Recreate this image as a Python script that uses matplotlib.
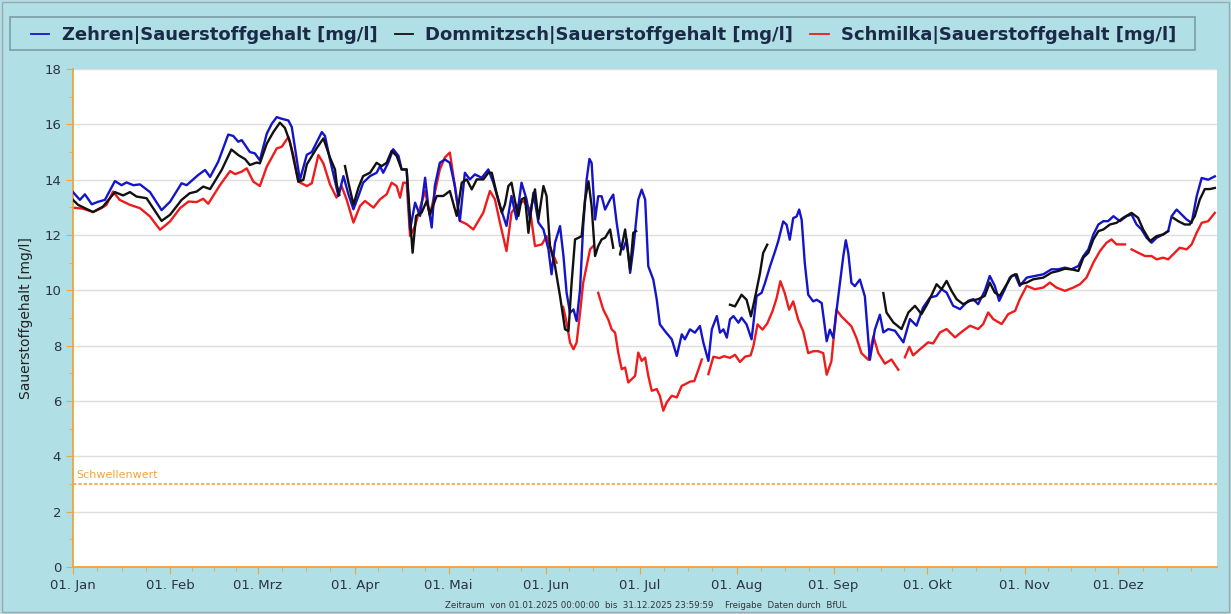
import numpy as np
import matplotlib.pyplot as plt
from matplotlib.lines import Line2D
from matplotlib.patches import Rectangle

# --- Daten (Tag im Jahr ab 01.01.2025, Sauerstoffgehalt in mg/l), None = Lücke ---
zehren_tag = [0, 2.2, 3.8, 6, 8, 10.2, 13.4, 15.5, 17.1, 19.3, 21.4, 24.6, 28.3, 31, 34.7, 36.3, 40, 42.2, 43.8,
              46.4, 49.6, 51.2, 52.8, 53.9, 55, 56.5, 58.1, 59.7, 61.9, 63.5, 65.1, 66.7, 68.8, 69.9, 72.5, 74.7,
              76.3, 79.5, 80.5, 82.1, 83.2, 84.8, 86.4, 88, 89.6, 91.2, 92.7, 94.9, 97, 98.1, 99.1, 100.7, 102.3,
              104, 105, 106.6, 107.7, 109.3, 110.9, 112.5, 113.5, 114.6, 115.6, 117.2, 118.8, 120.4, 122, 123.6,
              125.2, 126.8, 128.4, 130.6, 132.7, 134.3, 136.4, 138.5, 140.1, 141.7, 143.3, 144.9, 146, 147.1,
              148.7, 150.3, 151.9, 152.9, 154, 155.6, 156.7, 157.7, 158.8, 159.9, 160.9, 162, 163, 164.1, 165,
              165.7, 166.8, 167.8, 168.9, 170, 171.6, 172.6, 173.7, 174.8, 175.8, 176.9, 178, 179, 180.6, 181.7,
              182.8, 183.8, 185.4, 186.5, 187.5, 189.1, 191.3, 192.9, 194.5, 195.5, 197.1, 198.7, 200.3, 201.4,
              203, 204.1, 205.7, 206.7, 207.8, 208.9, 209.9, 211, 212.6, 213.6, 215.2, 216.8, 218.4, 220, 221.1,
              222.7, 224.3, 225.3, 226.9, 228, 229, 230.1, 231.2, 232, 232.8, 233.8, 234.9, 236.5, 237.6, 239.2,
              240.8, 241.8, 242.9, 244.5, 246.1, 246.9, 247.7, 248.7, 249.8, 251.4, 253, 254.6, 256.2, 257.8,
              258.9, 260.5, 262.6, 265.3, 267.4, 269.5, 271.6, 273.8, 275.9, 277.5, 279.1, 281.2, 283.4, 286,
              287.6, 289.2, 291.3, 292.9, 294.5, 295.9, 297.7, 299.3, 300.9, 302.5, 304.7, 307.3, 310, 312.6,
              314.8, 316.9, 319, 321.2, 322.8, 324.4, 326, 327.6, 329.2, 330.7, 332.4, 334.5, 336.6, 338.2,
              339.8, 341.4, 343, 344.6, 346.2, 348.3, 349.9, 351, 352.6, 354.2, 355.8, 357.4, 359, 360.6, 362.7,
              364.8]
zehren_wert = [13.55, 13.27, 13.47, 13.11, 13.2, 13.27, 13.95, 13.8, 13.9, 13.8, 13.83, 13.55, 12.9, 13.2, 13.87,
               13.8, 14.17, 14.35, 14.1, 14.65, 15.63, 15.58, 15.37, 15.43, 15.25, 15.0, 14.95, 14.7, 15.66, 16.02,
               16.26, 16.2, 16.14, 15.9, 13.99, 14.9, 15.0, 15.72, 15.58, 14.73, 14.19, 13.41, 14.13, 13.47, 12.93,
               13.41, 13.89, 14.13, 14.25, 14.49, 14.25, 14.61, 15.1, 14.86, 14.37, 14.37, 12.2, 13.17, 12.69,
               14.07, 13.05, 12.27, 13.77, 14.61, 14.73, 14.61, 13.77, 12.51, 14.25, 14.01, 14.19, 14.07, 14.37,
               13.89, 13.05, 12.33, 13.41, 12.57, 13.89, 13.29, 12.57, 13.53, 12.45, 12.2, 11.48, 10.58, 11.72,
               12.32, 11.24, 9.91, 9.19, 9.31, 8.89, 10.03, 12.32, 14.0, 14.75, 14.6, 12.56, 13.4, 13.4, 12.92,
               13.28, 13.46, 12.44, 11.6, 11.48, 11.84, 10.63, 11.48, 13.28, 13.64, 13.28, 10.87, 10.39, 9.67, 8.77,
               8.53, 8.23, 7.63, 8.41, 8.23, 8.59, 8.47, 8.71, 8.11, 7.45, 8.59, 9.07, 8.47, 8.59, 8.29, 8.95, 9.07,
               8.83, 9.01, 8.77, 8.23, 9.79, 9.91, 10.27, 10.87, 11.41, 11.77, 12.49, 12.37, 11.83, 12.61, 12.67,
               12.92, 12.55, 10.99, 9.84, 9.6, 9.66, 9.54, 8.16, 8.58, 8.28, 9.78, 11.23, 11.81, 11.35, 10.27,
               10.15, 10.39, 9.78, 7.49, 8.58, 9.12, 8.48, 8.6, 8.54, 8.12, 8.96, 8.72, 9.38, 9.74, 9.8, 10.04,
               9.92, 9.44, 9.32, 9.62, 9.68, 9.5, 9.98, 10.52, 10.16, 9.62, 10.04, 10.46, 10.58, 10.16, 10.46,
               10.52, 10.58, 10.76, 10.76, 10.82, 10.76, 10.88, 11.24, 11.48, 12.02, 12.38, 12.5, 12.5, 12.68,
               12.5, 12.68, 12.74, 12.38, 12.2, 11.9, 11.72, 11.9, 12.02, 12.14, 12.68, 12.92, 12.74, 12.56, 12.44,
               13.4, 14.06, 14.0, 14.12]

dommitzsch_tag = [0, 1.6, 3.8, 6.4, 9.6, 13.4, 16, 18.2, 20.3, 23.5, 28.3, 31, 34.7, 37.3, 39.5, 41.6, 43.8, 47.5,
                  50.6, 52.8, 55, 56.5, 58.7, 59.7, 61.9, 64, 66.1, 67.7, 69.3, 72, 73.6, 74.7, 77.8, 80, 82.1,
                  83.7, 84.3, 85.1, 85.9, 86.9, 88, 89.6, 91.2, 92.7, 94.9, 97, 98.6, 100.2, 101.8, 103.4, 105,
                  106.6, 107.7, 108.5, 109.6, 111.4, 113, 114, 116.2, 118.3, 120.4, 122.6, 124.2, 125.8, 127.4, 129,
                  131.1, 132.7, 133.8, 135.3, 137, 138, 139.1, 140.1, 141.2, 142.3, 143.3, 144.4, 145.5, 146.5,
                  147.6, 148.7, 150.3, 151.3, 152.4, 154, 155.6, 157.2, 158.3, 159.3, 160.4, 161.5, 162.5, 163.6,
                  164.7, 165.7, 166.8, 167.8, 168.9, 170, 171.6, 172.6, 173.7, 174.8, 176.4, 178, 179, 179.9, 195,
                  209.9, 211.5, 213.6, 215.2, 216.6, 218.2, 219.5, 220.5, 221.8, 240, 258.9, 259.9, 262.1, 264.7,
                  266.9, 269, 271.1, 273.2, 275.9, 277.5, 279.1, 280.7, 282.3, 284.4, 286.6, 289.2, 291.3, 292.9,
                  294.5, 296.1, 298.3, 299.9, 301.5, 302.5, 304.7, 306.8, 310, 312.6, 314.8, 316.9, 319, 321.2,
                  322.8, 324.4, 326, 327.6, 329.2, 331.3, 333.4, 335.5, 338.2, 340.3, 341.9, 344.1, 346.2, 348.3,
                  349.9, 350.7, 351.5, 353.1, 355.2, 356.8, 358.4, 360, 361.6, 363.2, 364.8]
dommitzsch_wert = [13.27, 13.09, 12.97, 12.83, 13.03, 13.55, 13.43, 13.55, 13.39, 13.33, 12.51, 12.73, 13.27, 13.51,
                   13.57, 13.75, 13.66, 14.35, 15.09, 14.89, 14.74, 14.53, 14.62, 14.59, 15.3, 15.72, 16.06, 15.87,
                   15.37, 13.93, 13.99, 14.55, 15.13, 15.49, 14.8, 14.37, 13.81, 13.45, None, 14.49, 13.89, 13.1,
                   13.71, 14.13, 14.25, 14.61, 14.49, 14.61, 15.04, 14.86, 14.37, 14.37, 12.57, 11.36, 12.69, 12.81,
                   13.23, 12.75, 13.41, 13.41, 13.59, 12.69, 13.89, 14.01, 13.65, 14.01, 14.01, 14.25, 14.25, 13.53,
                   12.81, 13.1, 13.77, 13.89, 13.23, 12.69, 13.29, 13.35, 12.08, 13.05, 13.65, 12.57, 13.77, 13.41,
                   11.6, 10.88, 9.79, 8.59, 8.53, 10.27, 11.84, 11.9, 11.96, 13.28, 13.94, 13.04, 11.24, 11.6, 11.84,
                   11.9, 12.2, 11.54, None, 11.3, 12.2, 10.75, 12.08, 12.14, None, 9.48, 9.42, 9.84, 9.66, 9.06, 9.9,
                   10.63, 11.35, 11.65, None, 9.9, 9.2, 8.84, 8.6, 9.2, 9.44, 9.14, 9.56, 10.22, 10.04, 10.34, 9.98,
                   9.68, 9.5, 9.62, 9.68, 9.8, 10.28, 9.92, 9.8, 10.22, 10.52, 10.58, 10.22, 10.28, 10.4, 10.46,
                   10.64, 10.7, 10.78, 10.76, 10.7, 11.18, 11.36, 11.84, 12.14, 12.2, 12.38, 12.44, 12.62, 12.8,
                   12.62, 12.2, 11.78, 11.96, 12.02, 12.14, None, 12.62, 12.5, 12.38, 12.38, 12.68, 13.28, 13.66,
                   13.66, 13.7]

schmilka_tag = [0, 3.2, 6.4, 9.1, 10.7, 12.8, 14.9, 18.2, 21.4, 24.6, 27.8, 31, 34.2, 36.9, 39.5, 41.6, 43.2, 47,
                50.2, 51.8, 53.9, 55.5, 57.6, 59.7, 61.9, 65.1, 66.7, 68.8, 70.4, 72, 74.7, 76.3, 78.4, 80, 82.1,
                84.2, 85.8, 87.4, 89.6, 91.7, 93.3, 96, 98.1, 100.2, 101.8, 103.4, 104.5, 105.5, 106.6, 107.7,
                109.3, 110.9, 112.5, 114, 115.6, 117.2, 118.8, 120.4, 122, 123.6, 125.8, 127.9, 131.1, 133.2, 134.8,
                136.4, 138.5, 140.1, 141.7, 143.9, 146, 147.6, 149.8, 151.3, 152.9, 154.5, 155.5, 156.6, 157.7,
                158.8, 159.9, 160.9, 162, 163, 164.1, 165.2, 166.2, 167, 167.8, 169.4, 171, 172.1, 173.2, 174.2,
                175.3, 176.4, 177.4, 178.5, 179.6, 180.6, 181.7, 182.8, 183.8, 184.9, 186.5, 187.5, 188.6, 189.7,
                191.3, 192.9, 194.5, 195.5, 197.1, 198.5, 199.8, 200.9, 202, 203, 204.6, 206.5, 208, 209.9, 211.5,
                213.1, 214.7, 216.5, 217.4, 218.7, 220.3, 221.8, 223.5, 224.8, 226, 227.4, 228.8, 230.1, 231.7,
                233.3, 234.9, 236.5, 238.1, 239.7, 240.8, 242.3, 243.9, 245.5, 247.1, 248.7, 250.3, 251.9, 254.1,
                255.7, 257.3, 259.4, 261.5, 262.6, 263.7, 264.7, 265.8, 267.2, 268.4, 270.6, 273.2, 274.8, 277,
                279.1, 281.8, 284.4, 286.6, 289.2, 290.8, 292.4, 294, 296.7, 298.8, 301, 302.5, 304.7, 307.3, 310,
                312.1, 314.2, 316.9, 319.6, 321.7, 323.8, 326, 328.1, 330.2, 331.8, 333.4, 336.1, 337.2, 338.2,
                340.3, 342.5, 344.6, 346.2, 348.3, 349.9, 351.5, 353.6, 355.8, 357.4, 359, 360.6, 362.7, 364.8]
schmilka_wert = [12.99, 12.95, 12.83, 12.97, 13.09, 13.57, 13.27, 13.09, 12.97, 12.67, 12.19, 12.49, 12.97, 13.21,
                 13.19, 13.31, 13.13, 13.81, 14.31, 14.2, 14.29, 14.41, 13.93, 13.77, 14.47, 15.13, 15.19, 15.54,
                 14.89, 13.93, 13.77, 13.87, 14.89, 14.59, 13.83, 13.35, 13.77, 13.29, 12.45, 13.05, 13.23, 12.99,
                 13.29, 13.47, 13.89, 13.77, 13.35, 13.89, 13.89, 11.96, 12.33, 12.99, 13.59, 12.69, 13.53, 14.37,
                 14.8, 14.98, 13.77, 12.51, 12.39, 12.2, 12.81, 13.59, 13.29, 12.45, 11.42, 12.81, 13.05, 13.23,
                 12.93, 11.6, 11.66, 11.96, 11.42, 11.0, None, 9.4, 8.83, 8.11, 7.87, 8.11, 9.19, 10.27, 10.87,
                 11.48, 11.6, None, 9.91, 9.31, 8.95, 8.59, 8.47, 7.75, 7.15, 7.21, 6.67, 6.79, 6.91, 7.75, 7.45,
                 7.57, 6.91, 6.37, 6.43, 6.19, 5.65, 5.95, 6.19, 6.13, 6.55, 6.6, 6.7, 6.72, 7.13, 7.5, None, 6.97,
                 7.6, 7.55, 7.62, 7.56, 7.67, 7.41, 7.6, 7.65, 7.99, 8.77, 8.58, 8.8, 9.25, 9.72, 10.33, 9.9, 9.3,
                 9.6, 8.94, 8.52, 7.73, 7.8, 7.8, 7.73, 6.95, 7.43, 9.3, 9.06, 8.88, 8.7, 8.28, 7.73, 7.49, 8.34,
                 7.73, 7.35, 7.5, 7.31, 7.13, None, 7.58, 7.96, 7.65, 7.87, 8.12, 8.08, 8.48, 8.6, 8.3, 8.54, 8.72,
                 8.6, 8.78, 9.2, 8.96, 8.78, 9.14, 9.26, 9.68, 10.16, 10.04, 10.1, 10.28, 10.1, 9.98, 10.1, 10.22,
                 10.46, 11.0, 11.42, 11.72, 11.84, 11.66, 11.66, None, 11.48, 11.36, 11.24, 11.24, 11.12, 11.18,
                 11.12, 11.3, 11.54, 11.48, 11.66, 12.08, 12.44, 12.5, 12.8]

monate = ["01. Jan", "01. Feb", "01. Mrz", "01. Apr", "01. Mai", "01. Jun",
          "01. Jul", "01. Aug", "01. Sep", "01. Okt", "01. Nov", "01. Dez"]
monat_tage = [31, 28, 31, 30, 31, 30, 31, 31, 30, 31, 30, 31]
schwellenwert = 3

# --- Farben ---
hintergrund = '#b0dfe5'
orange = '#f2a33a'
textfarbe = '#2b3340'

def serie(tage, werte):
    w = np.array([np.nan if v is None else v for v in werte], dtype=float)
    return np.array(tage, dtype=float), w

fig = plt.figure(figsize=(12.31, 6.14), dpi=100, facecolor=hintergrund)
ax = fig.add_axes([73 / 1231, 1 - 567 / 614, (1217 - 73) / 1231, (567 - 69) / 614])
ax.set_facecolor('white')

t, w = serie(zehren_tag, zehren_wert)
ax.plot(t, w, color='#1414c8', lw=1.7, zorder=3)
t, w = serie(dommitzsch_tag, dommitzsch_wert)
ax.plot(t, w, color='#111111', lw=1.7, zorder=4)
t, w = serie(schmilka_tag, schmilka_wert)
ax.plot(t, w, color='#ee1c1c', lw=1.7, zorder=2)

# Schwellenwert
ax.axhline(schwellenwert, color=orange, lw=1.2, ls=(0, (2, 1.2)), zorder=2)
ax.text(1, schwellenwert + 0.15, "Schwellenwert", color=orange, fontsize=8, va='bottom', ha='left')

# Achsen
monat_start = np.concatenate([[0], np.cumsum(monat_tage)[:-1]])
minor = []
for s, n in zip(monat_start, monat_tage):
    minor += [s + n * k / 4 for k in (1, 2, 3)]
ax.set_xticks(monat_start)
ax.set_xticklabels(monate)
ax.set_xticks(minor, minor=True)
ax.set_xlim(0, 365.5)
ax.set_ylim(0, 18)
ax.set_yticks(range(0, 19, 2))
ax.set_yticks(range(1, 19, 2), minor=True)
ax.grid(axis='y', which='major', color='#dedede', lw=1)
ax.set_axisbelow(True)

for s in ['top', 'right']:
    ax.spines[s].set_visible(False)
for s in ['left', 'bottom']:
    ax.spines[s].set_color(orange)
    ax.spines[s].set_linewidth(1.3)
ax.tick_params(which='both', direction='out', color=orange, labelcolor=textfarbe, labelsize=9.5)
ax.tick_params(which='major', length=5)
ax.tick_params(which='minor', length=3)
ax.set_ylabel("Sauerstoffgehalt [mg/l]", fontsize=10, color='#222222', labelpad=8)

# Legende mit Rahmen
fig.patches.append(Rectangle((10 / 1231, 1 - 50 / 614), 1185 / 1231, 33 / 614, transform=fig.transFigure,
                             facecolor=hintergrund, edgecolor='#7c9ea6', lw=1.2, zorder=0))
fig.patches.append(Rectangle((2 / 1231, 2 / 614), 1227 / 1231, 610 / 614, transform=fig.transFigure,
                             facecolor='none', edgecolor='#a0a8ac', lw=1, zorder=0))
handles = [Line2D([], [], color='#1414c8', lw=1.3),
           Line2D([], [], color='#111111', lw=1.3),
           Line2D([], [], color='#ee1c1c', lw=1.3)]
labels = ["Zehren|Sauerstoffgehalt [mg/l]", "Dommitzsch|Sauerstoffgehalt [mg/l]", "Schmilka|Sauerstoffgehalt [mg/l]"]
leg = fig.legend(handles, labels, loc='center left', bbox_to_anchor=(15 / 1231, 1 - 35 / 614), ncol=3,
                 frameon=False, handlelength=1.0, handletextpad=0.7, columnspacing=0.95,
                 prop={'weight': 'bold', 'size': 13})
for txt in leg.get_texts():
    txt.set_color('#1c2a48')

# Fusszeile
fig.text(445 / 1231, 1 - 606 / 614, "Zeitraum  von 01.01.2025 00:00:00  bis  31.12.2025 23:59:59",
         fontsize=6.2, color='#333333', va='center')
fig.text(725 / 1231, 1 - 606 / 614, "Freigabe  Daten durch  BfUL", fontsize=6.2, color='#333333', va='center')

fig.savefig("out.png", dpi=100, facecolor=hintergrund)
